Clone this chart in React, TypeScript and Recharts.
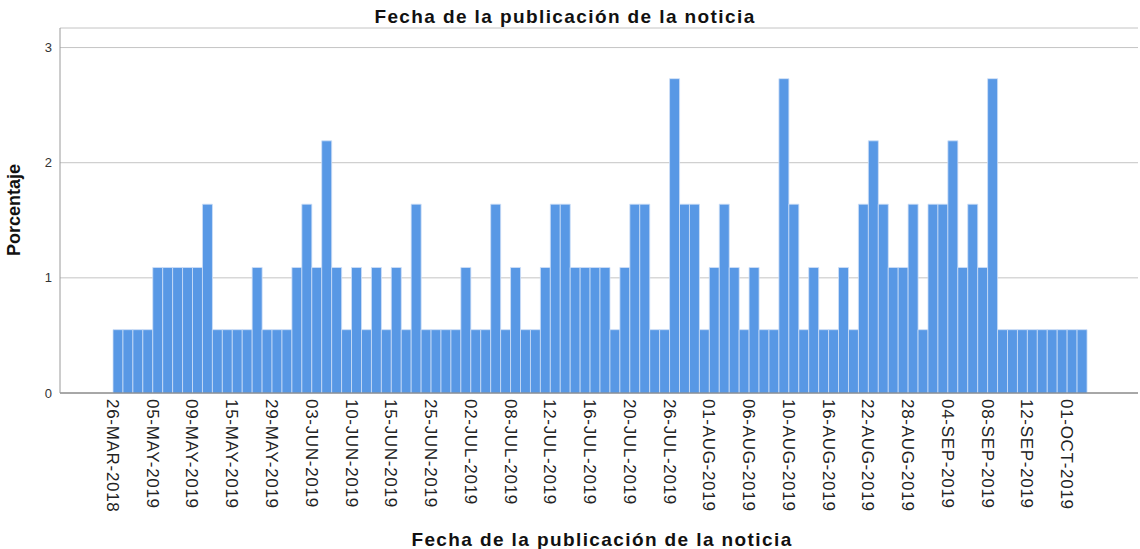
import { BarChart, Bar, XAxis, YAxis, CartesianGrid, Label } from "recharts";

// labelled dates (every 4th bar)
const tickLabels = [
  "26-MAR-2018", "05-MAY-2019", "09-MAY-2019", "15-MAY-2019", "29-MAY-2019",
  "03-JUN-2019", "10-JUN-2019", "15-JUN-2019", "25-JUN-2019", "02-JUL-2019",
  "08-JUL-2019", "12-JUL-2019", "16-JUL-2019", "20-JUL-2019", "26-JUL-2019",
  "01-AUG-2019", "06-AUG-2019", "10-AUG-2019", "16-AUG-2019", "22-AUG-2019",
  "28-AUG-2019", "04-SEP-2019", "08-SEP-2019", "12-SEP-2019", "01-OCT-2019",
];

// percentage per day (n = 183)
const porcentaje = [
  0.55, 0.55, 0.55, 0.55, 1.09, 1.09, 1.09, 1.09, 1.09, 1.64,
  0.55, 0.55, 0.55, 0.55, 1.09, 0.55, 0.55, 0.55, 1.09, 1.64,
  1.09, 2.19, 1.09, 0.55, 1.09, 0.55, 1.09, 0.55, 1.09, 0.55,
  1.64, 0.55, 0.55, 0.55, 0.55, 1.09, 0.55, 0.55, 1.64, 0.55,
  1.09, 0.55, 0.55, 1.09, 1.64, 1.64, 1.09, 1.09, 1.09, 1.09,
  0.55, 1.09, 1.64, 1.64, 0.55, 0.55, 2.73, 1.64, 1.64, 0.55,
  1.09, 1.64, 1.09, 0.55, 1.09, 0.55, 0.55, 2.73, 1.64, 0.55,
  1.09, 0.55, 0.55, 1.09, 0.55, 1.64, 2.19, 1.64, 1.09, 1.09,
  1.64, 0.55, 1.64, 1.64, 2.19, 1.09, 1.64, 1.09, 2.73, 0.55,
  0.55, 0.55, 0.55, 0.55, 0.55, 0.55, 0.55, 0.55,
];

const yTicks = [0, 1, 2, 3];

const data = porcentaje.map((p, i) => ({ idx: i, pct: p }));

const FONT = "'Liberation Sans', Arial, sans-serif";
const TITLE = "Fecha de la publicación de la noticia";

const DateTick = ({ x, y, payload }: any) => {
  const label = tickLabels[payload.value / 4];
  if (!label) return null;
  return (
    <text
      transform={`translate(${x - 11},${y - 2}) rotate(90)`}
      textAnchor="start"
      fontSize={17}
      letterSpacing={0.7}
      fontFamily={FONT}
      fill="#222"
    >
      {label}
    </text>
  );
};

export default function App() {
  return (
    <div style={{ position: "absolute", left: 0, top: 0, width: 1140, height: 549, background: "#fff" }}>
      <BarChart
        width={1140}
        height={549}
        data={data}
        margin={{ top: 28, right: 2, bottom: 0, left: 0 }}
        barCategoryGap={0}
      >
        <CartesianGrid vertical={false} stroke="#c4c4c4" />
        <XAxis
          dataKey="idx"
          interval={3}
          tick={<DateTick />}
          height={156}
          padding={{ left: 53, right: 51 }}
          axisLine={{ stroke: "#6f6f6f" }}
          tickLine={false}
        >
          <Label
            content={() => (
              <g>
                <text x={565} y={23} textAnchor="middle" fontSize={19} letterSpacing={1.4} fontWeight="bold" fontFamily={FONT} fill="#111">
                  {TITLE}
                </text>
                <text x={602} y={546} textAnchor="middle" fontSize={19} letterSpacing={1.4} fontWeight="bold" fontFamily={FONT} fill="#111">
                  {TITLE}
                </text>
              </g>
            )}
          />
        </XAxis>
        <YAxis
          domain={[0, 3.17]}
          ticks={yTicks}
          width={60}
          tick={{ fontSize: 13, fill: "#333", fontFamily: FONT }}
          axisLine={{ stroke: "#9a9a9a" }}
          tickLine={false}
        >
          <Label
            content={() => (
              <text
                transform="translate(20,210) rotate(-90)"
                textAnchor="middle"
                fontSize={18}
                fontWeight="bold"
                fontFamily={FONT}
                fill="#111"
              >
                Porcentaje
              </text>
            )}
          />
        </YAxis>
        <Bar dataKey="pct" fill="#5898e5" stroke="#cfe0f7" strokeWidth={0.8} isAnimationActive={false} />
      </BarChart>
    </div>
  );
}
